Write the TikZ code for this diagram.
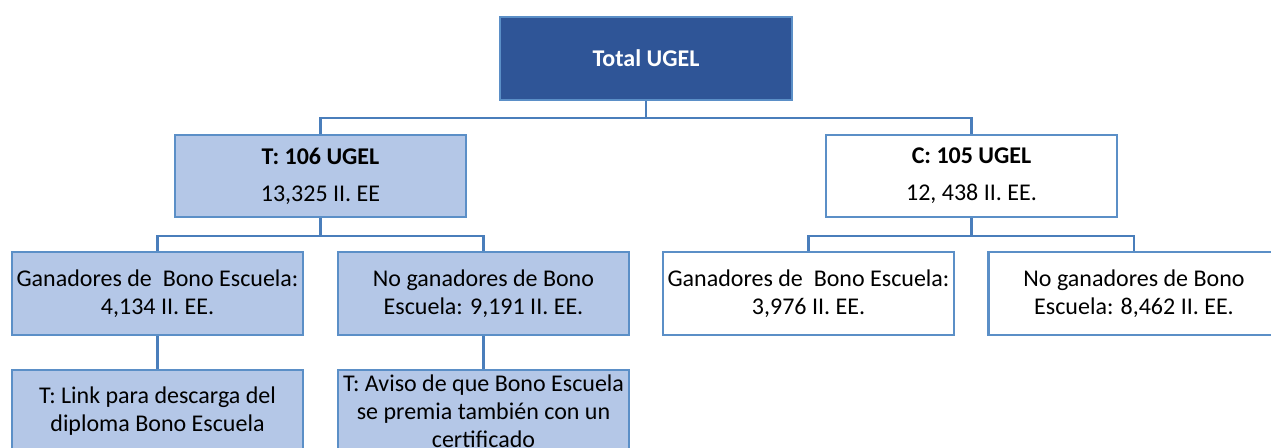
\documentclass[tikz,border=0pt]{standalone}
\usepackage{fontspec}
\setmainfont{Carlito}
\definecolor{darkfill}{RGB}{47,85,151}
\definecolor{lightfill}{RGB}{180,199,231}
\definecolor{edgec}{RGB}{91,143,199}
\definecolor{connc}{RGB}{74,126,187}
\begin{document}
\begin{tikzpicture}[x=1pt,y=-1pt,
  box/.style={draw=edgec,line width=2.5pt,rectangle,inner sep=0pt,align=center,
    minimum width=291pt,minimum height=83pt,font=\fontsize{24}{28}\selectfont},
  tbox/.style={box,fill=lightfill},
  cbox/.style={box,fill=white},
  topbox/.style={box,fill=darkfill,text=white,minimum width=292pt,font=\fontsize{24}{28}\selectfont\bfseries},
  conn/.style={draw=connc,line width=2.2pt}]
\useasboundingbox (0,0) rectangle (1271,447);
\clip (0,0) rectangle (1271,447);
\node[topbox] (top) at (646,58.5) {Total UGEL};
\node[tbox,minimum height=82pt] (T) at (320.5,176) {\textbf{T: 106 UGEL}\\[9pt]13,325 II. EE};
\node[cbox,minimum height=82pt] (C) at (971.5,176) {\textbf{C: 105 UGEL}\\[9pt]12, 438 II. EE.};
\node[tbox] (TG) at (157.5,293.5) {Ganadores de~ Bono Escuela:\\4,134 II. EE.};
\node[tbox] (TN) at (483.5,293.5) {No ganadores de Bono\\Escuela: 9,191 II. EE.};
\node[cbox] (CG) at (808.5,293.5) {Ganadores de~ Bono Escuela:\\3,976 II. EE.};
\node[cbox] (CN) at (1134,293.5) {No ganadores de Bono\\Escuela: 8,462 II. EE.};
\node[tbox] (TL) at (157.5,411.5) {T: Link para descarga del\\diploma Bono Escuela};
\node[tbox] (TA) at (483.5,411.5) {T: Aviso de que Bono Escuela\\se premia también con un\\certificado};
\draw[conn] (top.south) -- ++(0,17) -| (T.north);
\draw[conn] (top.south) -- ++(0,17) -| (C.north);
\draw[conn] (T.south) -- ++(0,18) -| (TG.north);
\draw[conn] (T.south) -- ++(0,18) -| (TN.north);
\draw[conn] (C.south) -- ++(0,18) -| (CG.north);
\draw[conn] (C.south) -- ++(0,18) -| (CN.north);
\draw[conn] (TG.south) -- (TL.north);
\draw[conn] (TN.south) -- (TA.north);
\end{tikzpicture}
\end{document}
